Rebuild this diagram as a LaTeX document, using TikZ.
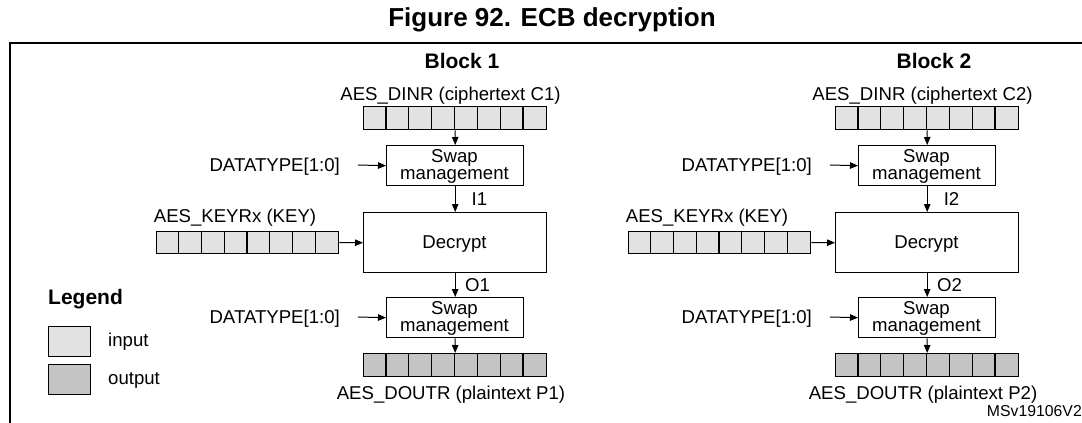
\documentclass[tikz,border=0pt]{standalone}
\usepackage{fontspec}
\setmainfont{Liberation Sans}
\usetikzlibrary{arrows.meta}
\definecolor{infill}{HTML}{E2E2E2}
\definecolor{outfill}{HTML}{C4C4C4}
\begin{document}
\begin{tikzpicture}[x=1pt,y=-1pt,
  reg/.style={draw=black,line width=1.3pt,rectangle,inner sep=0pt,minimum height=23pt,minimum width=183pt,anchor=north west},
  regin/.style={reg,fill=infill},
  regout/.style={reg,fill=outfill},
  proc/.style={draw=black,line width=1.4pt,rectangle,fill=white,inner sep=0pt,anchor=north west},
  arr/.style={-{Triangle[length=8pt,width=6.5pt]},line width=1pt},
  txt/.style={font=\fontsize{18.6}{16}\selectfont,inner sep=0pt,anchor=base},
  btxt/.style={font=\fontsize{21}{22}\selectfont\bfseries,inner sep=0pt,anchor=base},
  ttxt/.style={font=\fontsize{26}{28}\selectfont\bfseries,inner sep=0pt,anchor=base},
  smtxt/.style={font=\fontsize{15.8}{18}\selectfont,inner sep=0pt,anchor=base east},
  frame/.style={draw=black,line width=2pt}]
\useasboundingbox (0,0) rectangle (1082,423);
\clip (0,0) rectangle (1082,423);

% title and frame
\node[ttxt] (title) at (552,27) {Figure 92. ECB decryption};
\draw[frame] (10,440) -- (10,42.7) -- (1100,42.7);

% legend
\node[btxt,anchor=base west] (legend) at (48,304) {Legend};
\node[reg,fill=infill,minimum width=42pt,minimum height=30pt] (legin) at (48,326) {};
\node[reg,fill=outfill,minimum width=42pt,minimum height=30pt] (legout) at (48,364) {};
\node[txt,anchor=base west] (legintxt) at (108,346) {input};
\node[txt,anchor=base west] (legouttxt) at (108,384) {output};

% blocks
\foreach \dx/\n in {0/1,472/2}{
  \node[btxt] (blk\n) at (462+\dx,68.3) {Block \n};
  \node[txt] (dinlbl\n) at (450.5+\dx,100.5) {AES\_DINR (ciphertext C\n)};
  \node[regin] (din\n) at (363+\dx,106) {};
  \foreach \i in {1,...,7}{\draw[line width=1.3pt] (din\n.north west) ++(\i*22.875,0) -- ++(0,23);}
  \node[proc,minimum width=137pt,minimum height=40pt] (swapa\n) at (386+\dx,145) {};
  \node[txt] (swapat\n) at (454.5+\dx,162.5) {Swap};
  \node[txt] (swapam\n) at (454.5+\dx,179.5) {management};
  \draw[arr] (din\n.south) -- (swapa\n.north);
  \node[txt,anchor=base east] (dta\n) at (340+\dx,171.7) {DATATYPE[1:0]};
  \coordinate (dtastart\n) at (358+\dx,165);
  \draw[arr] (dtastart\n) -- (swapa\n.west);
  \node[proc,minimum width=183pt,minimum height=60pt] (dec\n) at (363+\dx,212) {};
  \node[txt] (dect\n) at (454.5+\dx,248.7) {Decrypt};
  \draw[arr] (swapa\n.south) -- (dec\n.north);
  \node[txt] (ilbl\n) at (479.5+\dx,205.3) {I\n};
  \node[txt] (keylbl\n) at (235+\dx,222.5) {AES\_KEYRx (KEY)};
  \node[regin,minimum width=182pt,minimum height=22pt] (key\n) at (156+\dx,231) {};
  \foreach \i in {1,...,7}{\draw[line width=1.3pt] (key\n.north west) ++(\i*22.75,0) -- ++(0,22);}
  \draw[arr] (key\n.east) -- (dec\n.west);
  \node[proc,minimum width=137pt,minimum height=40pt] (swapb\n) at (386+\dx,297) {};
  \node[txt] (swapbt\n) at (454.5+\dx,314.5) {Swap};
  \node[txt] (swapbm\n) at (454.5+\dx,331.5) {management};
  \draw[arr] (dec\n.south) -- (swapb\n.north);
  \node[txt] (olbl\n) at (477.5+\dx,291.7) {O\n};
  \node[txt,anchor=base east] (dtb\n) at (340+\dx,323.7) {DATATYPE[1:0]};
  \coordinate (dtbstart\n) at (358+\dx,317);
  \draw[arr] (dtbstart\n) -- (swapb\n.west);
  \node[regout] (dout\n) at (363+\dx,353) {};
  \foreach \i in {1,...,7}{\draw[line width=1.3pt] (dout\n.north west) ++(\i*22.875,0) -- ++(0,23);}
  \draw[arr] (swapb\n.south) -- (dout\n.north);
  \node[txt] (doutlbl\n) at (451+\dx,399.5) {AES\_DOUTR (plaintext P\n)};
}

\node[smtxt] (ref) at (1082,416) {MSv19106V2};
\end{tikzpicture}
\end{document}
